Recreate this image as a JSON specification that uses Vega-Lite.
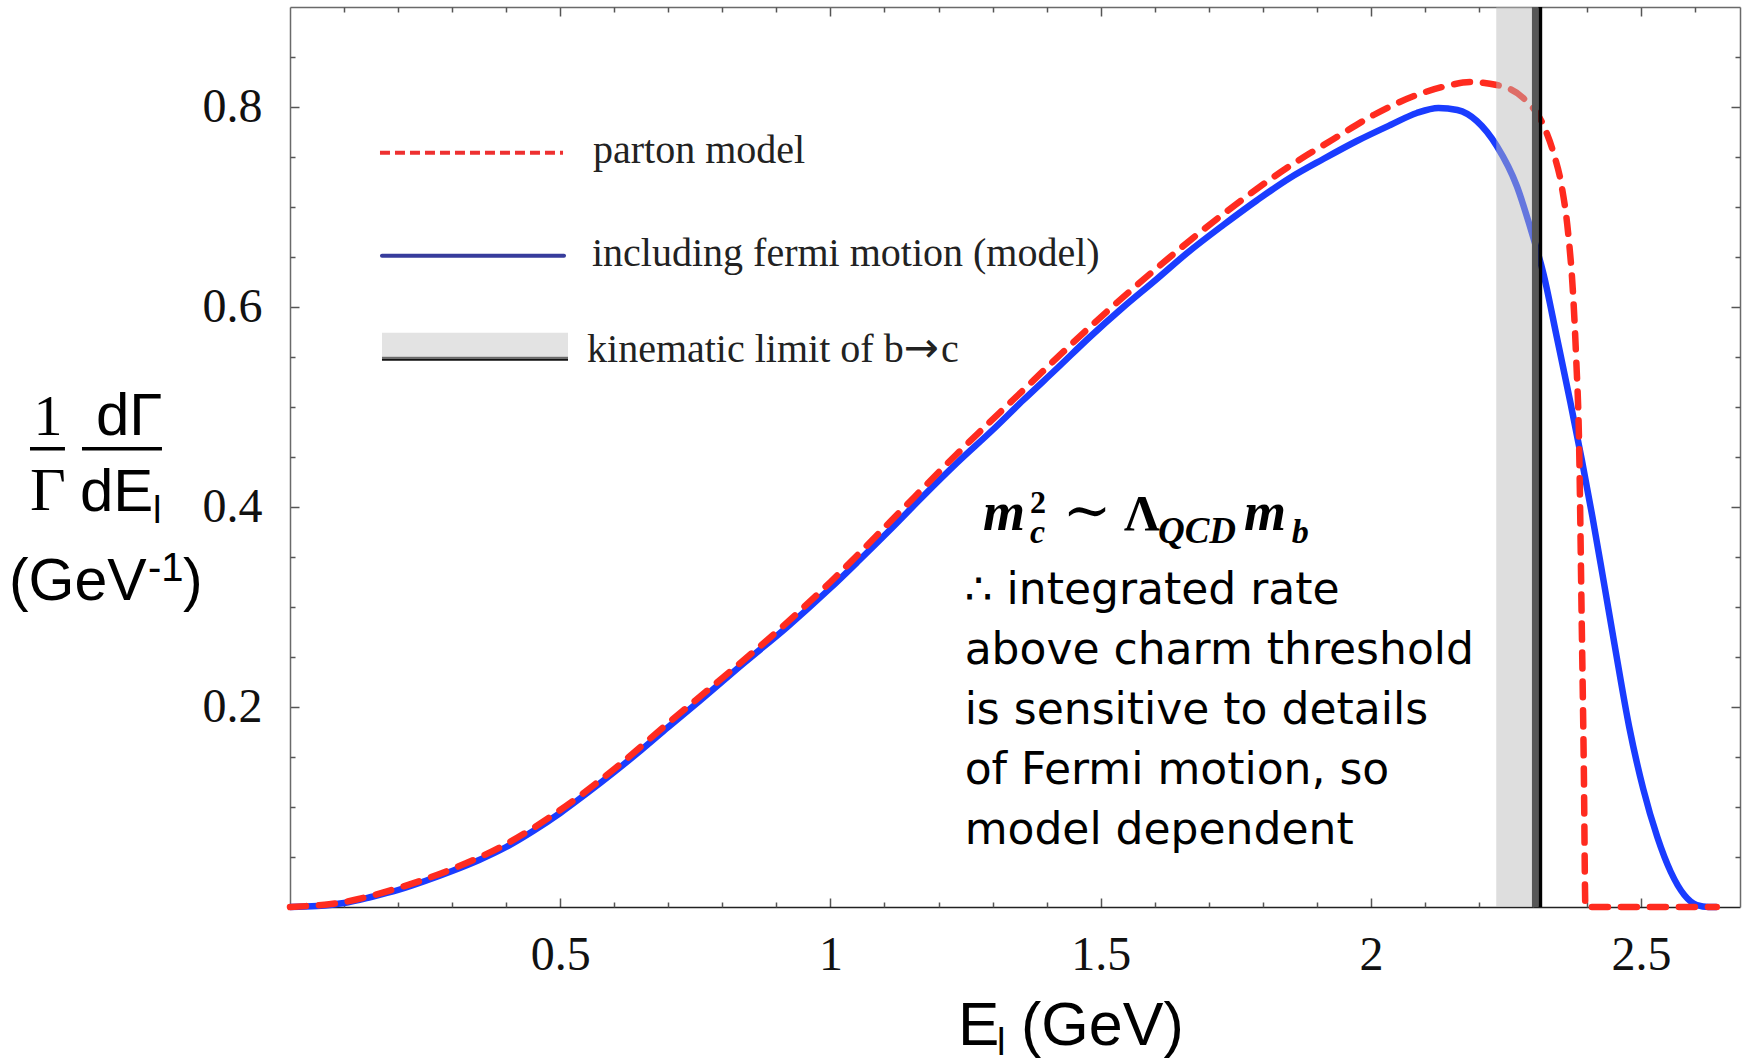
{
  "$schema": "https://vega.github.io/schema/vega-lite/v6.json",
  "width": 1450,
  "height": 900,
  "autosize": {"type": "none"},
  "padding": {"left": 290, "top": 7, "right": 2, "bottom": 151},
  "background": "white",
  "config": {
    "view": {"stroke": null},
    "axis": {"grid": false, "tickColor": "#555", "tickWidth": 1.5, "domainColor": "#6a6a6a", "domainWidth": 1.5, "labelFont": "Liberation Serif", "labelFontSize": 48, "labelColor": "#111", "labelFlush": false, "labelOverlap": false}
  },
  "datasets": {
    "curves": [
      {"E": 0, "r": 0, "s": "f"}, {"E": 0.05, "r": 0.001, "s": "f"}, {"E": 0.1, "r": 0.004, "s": "f"}, {"E": 0.15, "r": 0.010, "s": "f"},
      {"E": 0.2, "r": 0.017, "s": "f"}, {"E": 0.25, "r": 0.026, "s": "f"}, {"E": 0.3, "r": 0.036, "s": "f"}, {"E": 0.35, "r": 0.047, "s": "f"},
      {"E": 0.4, "r": 0.060, "s": "f"}, {"E": 0.45, "r": 0.076, "s": "f"}, {"E": 0.5, "r": 0.094, "s": "f"}, {"E": 0.55, "r": 0.114, "s": "f"},
      {"E": 0.6, "r": 0.135, "s": "f"}, {"E": 0.65, "r": 0.157, "s": "f"}, {"E": 0.7, "r": 0.180, "s": "f"}, {"E": 0.76, "r": 0.207, "s": "f"},
      {"E": 0.84, "r": 0.244, "s": "f"}, {"E": 0.92, "r": 0.280, "s": "f"}, {"E": 1.0, "r": 0.319, "s": "f"}, {"E": 1.05, "r": 0.345, "s": "f"},
      {"E": 1.11, "r": 0.377, "s": "f"}, {"E": 1.17, "r": 0.410, "s": "f"}, {"E": 1.234, "r": 0.444, "s": "f"}, {"E": 1.3, "r": 0.477, "s": "f"},
      {"E": 1.357, "r": 0.507, "s": "f"}, {"E": 1.42, "r": 0.539, "s": "f"}, {"E": 1.48, "r": 0.570, "s": "f"}, {"E": 1.54, "r": 0.599, "s": "f"},
      {"E": 1.604, "r": 0.628, "s": "f"}, {"E": 1.66, "r": 0.654, "s": "f"}, {"E": 1.727, "r": 0.682, "s": "f"}, {"E": 1.79, "r": 0.707, "s": "f"},
      {"E": 1.85, "r": 0.729, "s": "f"}, {"E": 1.912, "r": 0.748, "s": "f"}, {"E": 1.974, "r": 0.766, "s": "f"}, {"E": 2.036, "r": 0.782, "s": "f"},
      {"E": 2.085, "r": 0.794, "s": "f"}, {"E": 2.125, "r": 0.799, "s": "f"}, {"E": 2.16, "r": 0.797, "s": "f"}, {"E": 2.196, "r": 0.786, "s": "f"},
      {"E": 2.233, "r": 0.761, "s": "f"}, {"E": 2.27, "r": 0.721, "s": "f"}, {"E": 2.298, "r": 0.674, "s": "f"}, {"E": 2.319, "r": 0.634, "s": "f"},
      {"E": 2.344, "r": 0.570, "s": "f"}, {"E": 2.369, "r": 0.505, "s": "f"}, {"E": 2.39, "r": 0.448, "s": "f"}, {"E": 2.41, "r": 0.390, "s": "f"},
      {"E": 2.43, "r": 0.328, "s": "f"}, {"E": 2.451, "r": 0.262, "s": "f"}, {"E": 2.478, "r": 0.180, "s": "f"}, {"E": 2.504, "r": 0.118, "s": "f"},
      {"E": 2.53, "r": 0.070, "s": "f"}, {"E": 2.555, "r": 0.035, "s": "f"}, {"E": 2.58, "r": 0.012, "s": "f"}, {"E": 2.603, "r": 0.002, "s": "f"},
      {"E": 2.625, "r": 0, "s": "f"}, {"E": 2.64, "r": 0, "s": "f"},
      {"E": 0, "r": 0, "s": "p"}, {"E": 0.1, "r": 0.005, "s": "p"}, {"E": 0.2, "r": 0.019, "s": "p"}, {"E": 0.3, "r": 0.038, "s": "p"},
      {"E": 0.4, "r": 0.063, "s": "p"}, {"E": 0.5, "r": 0.097, "s": "p"}, {"E": 0.6, "r": 0.138, "s": "p"}, {"E": 0.7, "r": 0.184, "s": "p"},
      {"E": 0.8, "r": 0.229, "s": "p"}, {"E": 0.9, "r": 0.275, "s": "p"}, {"E": 1.0, "r": 0.325, "s": "p"}, {"E": 1.11, "r": 0.385, "s": "p"},
      {"E": 1.234, "r": 0.453, "s": "p"}, {"E": 1.357, "r": 0.517, "s": "p"}, {"E": 1.48, "r": 0.580, "s": "p"}, {"E": 1.604, "r": 0.639, "s": "p"},
      {"E": 1.727, "r": 0.693, "s": "p"}, {"E": 1.85, "r": 0.741, "s": "p"}, {"E": 1.931, "r": 0.768, "s": "p"}, {"E": 2.005, "r": 0.792, "s": "p"},
      {"E": 2.085, "r": 0.812, "s": "p"}, {"E": 2.14, "r": 0.821, "s": "p"}, {"E": 2.184, "r": 0.825, "s": "p"}, {"E": 2.233, "r": 0.822, "s": "p"},
      {"E": 2.282, "r": 0.809, "s": "p"}, {"E": 2.319, "r": 0.782, "s": "p"}, {"E": 2.338, "r": 0.754, "s": "p"}, {"E": 2.353, "r": 0.721, "s": "p"},
      {"E": 2.365, "r": 0.674, "s": "p"}, {"E": 2.374, "r": 0.614, "s": "p"}, {"E": 2.38, "r": 0.547, "s": "p"}, {"E": 2.385, "r": 0.47, "s": "p"},
      {"E": 2.39, "r": 0.29, "s": "p"}, {"E": 2.394, "r": 0.14, "s": "p"}, {"E": 2.397, "r": 0, "s": "p"}, {"E": 2.64, "r": 0, "s": "p"}
    ]
  },
  "layer": [
    {
      "data": {"name": "curves"},
      "transform": [{"filter": "datum.s == 'f'"}],
      "mark": {"type": "line", "color": "#1a3cff", "strokeWidth": 6.5, "interpolate": "monotone"},
      "encoding": {
        "x": {"field": "E", "type": "quantitative", "scale": {"domain": [0, 2.683], "nice": false, "zero": false},
          "axis": {"orient": "bottom", "title": null, "values": [0.5, 1, 1.5, 2, 2.5], "format": "~g", "tickSize": -9, "labelPadding": 33, "labelBaseline": "top", "domainColor": "#222"}},
        "y": {"field": "r", "type": "quantitative", "scale": {"domain": [0, 0.9], "nice": false, "zero": false},
          "axis": {"orient": "left", "title": null, "values": [0.2, 0.4, 0.6, 0.8], "format": "~g", "tickSize": -9, "labelPadding": 37, "labelAlign": "right", "labelBaseline": "middle"}}
      }
    },
    {
      "data": {"name": "curves"},
      "transform": [{"filter": "datum.s == 'p'"}],
      "mark": {"type": "line", "color": "#ff2b1f", "strokeWidth": 6.5, "strokeDash": [16, 13], "strokeCap": "round", "interpolate": "monotone"},
      "encoding": {
        "x": {"field": "E", "type": "quantitative", "scale": {"domain": [0, 2.683], "nice": false, "zero": false},
          "axis": {"orient": "top", "title": null, "values": [0.5, 1, 1.5, 2, 2.5], "labels": false, "tickSize": -9}},
        "y": {"field": "r", "type": "quantitative", "scale": {"domain": [0, 0.9], "nice": false, "zero": false},
          "axis": {"orient": "right", "title": null, "values": [0.2, 0.4, 0.6, 0.8], "labels": false, "tickSize": -9}}
      }
    },
    {
      "data": {"values": [{}]},
      "mark": {"type": "rect", "color": "#b9b9b9", "opacity": 0.47},
      "encoding": {
        "x": {"datum": 2.232, "type": "quantitative", "scale": {"domain": [0, 2.683], "nice": false, "zero": false}, "axis": null},
        "x2": {"datum": 2.298}
      }
    },
    {
      "data": {"values": [{}]},
      "mark": {"type": "rect", "color": "#575757"},
      "encoding": {
        "x": {"datum": 2.298, "type": "quantitative", "scale": {"domain": [0, 2.683], "nice": false, "zero": false}, "axis": null},
        "x2": {"datum": 2.310}
      }
    },
    {
      "data": {"values": [{}]},
      "mark": {"type": "rect", "color": "#000000"},
      "encoding": {
        "x": {"datum": 2.310, "type": "quantitative", "scale": {"domain": [0, 2.683], "nice": false, "zero": false}, "axis": null},
        "x2": {"datum": 2.317}
      }
    },
    {
      "data": {"values": [{}]},
      "mark": {"type": "text", "text": "parton model", "font": "Liberation Serif", "fontSize": 40, "color": "#222", "align": "left", "baseline": "alphabetic"},
      "encoding": {
        "x": {"datum": 0.5607, "type": "quantitative", "scale": {"domain": [0, 2.683], "nice": false, "zero": false},
          "axis": {"orient": "bottom", "title": null, "values": [0.1, 0.2, 0.3, 0.4, 0.6, 0.7, 0.8, 0.9, 1.1, 1.2, 1.3, 1.4, 1.6, 1.7, 1.8, 1.9, 2.1, 2.2, 2.3, 2.4, 2.6], "labels": false, "domain": false, "tickSize": -5}},
        "y": {"datum": 0.7443, "type": "quantitative", "scale": {"domain": [0, 0.9], "nice": false, "zero": false},
          "axis": {"orient": "left", "title": null, "values": [0.05, 0.1, 0.15, 0.25, 0.3, 0.35, 0.45, 0.5, 0.55, 0.65, 0.7, 0.75, 0.85], "labels": false, "domain": false, "tickSize": -5}}
      }
    },
    {
      "data": {"values": [{}]},
      "mark": {"type": "text", "text": "including fermi motion (model)", "font": "Liberation Serif", "fontSize": 40, "color": "#222", "align": "left", "baseline": "alphabetic"},
      "encoding": {
        "x": {"datum": 0.5588, "type": "quantitative", "scale": {"domain": [0, 2.683], "nice": false, "zero": false},
          "axis": {"orient": "top", "title": null, "values": [0.1, 0.2, 0.3, 0.4, 0.6, 0.7, 0.8, 0.9, 1.1, 1.2, 1.3, 1.4, 1.6, 1.7, 1.8, 1.9, 2.1, 2.2, 2.3, 2.4, 2.6], "labels": false, "domain": false, "tickSize": -5}},
        "y": {"datum": 0.6413, "type": "quantitative", "scale": {"domain": [0, 0.9], "nice": false, "zero": false},
          "axis": {"orient": "right", "title": null, "values": [0.05, 0.1, 0.15, 0.25, 0.3, 0.35, 0.45, 0.5, 0.55, 0.65, 0.7, 0.75, 0.85], "labels": false, "domain": false, "tickSize": -5}}
      }
    },
    {
      "data": {"values": [{}]},
      "mark": {"type": "text", "text": "kinematic limit of b", "font": "Liberation Serif", "fontSize": 40, "color": "#222", "align": "left", "baseline": "alphabetic"},
      "encoding": {
        "x": {"datum": 0.5496, "type": "quantitative", "scale": {"domain": [0, 2.683], "nice": false, "zero": false}, "axis": null},
        "y": {"datum": 0.5452, "type": "quantitative", "scale": {"domain": [0, 0.9], "nice": false, "zero": false}, "axis": null}
      }
    },
    {
      "data": {"values": [{}]},
      "mark": {"type": "text", "text": "→", "font": "DejaVu Sans", "fontSize": 42, "color": "#222", "align": "left", "baseline": "alphabetic"},
      "encoding": {
        "x": {"datum": 1.1358, "type": "quantitative", "scale": {"domain": [0, 2.683], "nice": false, "zero": false}, "axis": null},
        "y": {"datum": 0.5452, "type": "quantitative", "scale": {"domain": [0, 0.9], "nice": false, "zero": false}, "axis": null}
      }
    },
    {
      "data": {"values": [{}]},
      "mark": {"type": "text", "text": "c", "font": "Liberation Serif", "fontSize": 40, "color": "#222", "align": "left", "baseline": "alphabetic"},
      "encoding": {
        "x": {"datum": 1.2047, "type": "quantitative", "scale": {"domain": [0, 2.683], "nice": false, "zero": false}, "axis": null},
        "y": {"datum": 0.5452, "type": "quantitative", "scale": {"domain": [0, 0.9], "nice": false, "zero": false}, "axis": null}
      }
    },
    {
      "data": {"values": [{}]},
      "mark": {"type": "rule", "color": "#ee3030", "strokeWidth": 4, "strokeDash": [10, 5]},
      "encoding": {
        "x": {"datum": 0.1665, "type": "quantitative", "scale": {"domain": [0, 2.683], "nice": false, "zero": false}, "axis": null},
        "x2": {"datum": 0.5052},
        "y": {"datum": 0.7543, "type": "quantitative", "scale": {"domain": [0, 0.9], "nice": false, "zero": false}, "axis": null}
      }
    },
    {
      "data": {"values": [{}]},
      "mark": {"type": "rule", "color": "#373c9c", "strokeWidth": 4, "strokeCap": "round"},
      "encoding": {
        "x": {"datum": 0.1702, "type": "quantitative", "scale": {"domain": [0, 2.683], "nice": false, "zero": false}, "axis": null},
        "x2": {"datum": 0.5070},
        "y": {"datum": 0.6513, "type": "quantitative", "scale": {"domain": [0, 0.9], "nice": false, "zero": false}, "axis": null}
      }
    },
    {
      "data": {"values": [{}]},
      "mark": {"type": "rect", "color": "#e3e3e3"},
      "encoding": {
        "x": {"datum": 0.1702, "type": "quantitative", "scale": {"domain": [0, 2.683], "nice": false, "zero": false}, "axis": null},
        "x2": {"datum": 0.5144},
        "y": {"datum": 0.5742, "type": "quantitative", "scale": {"domain": [0, 0.9], "nice": false, "zero": false}, "axis": null},
        "y2": {"datum": 0.5502}
      }
    },
    {
      "data": {"values": [{}]},
      "mark": {"type": "rule", "color": "#6a6a6a", "strokeWidth": 2},
      "encoding": {
        "x": {"datum": 0.1702, "type": "quantitative", "scale": {"domain": [0, 2.683], "nice": false, "zero": false}, "axis": null},
        "x2": {"datum": 0.5144},
        "y": {"datum": 0.5492, "type": "quantitative", "scale": {"domain": [0, 0.9], "nice": false, "zero": false}, "axis": null}
      }
    },
    {
      "data": {"values": [{}]},
      "mark": {"type": "rule", "color": "#111111", "strokeWidth": 2},
      "encoding": {
        "x": {"datum": 0.1702, "type": "quantitative", "scale": {"domain": [0, 2.683], "nice": false, "zero": false}, "axis": null},
        "x2": {"datum": 0.5144},
        "y": {"datum": 0.5472, "type": "quantitative", "scale": {"domain": [0, 0.9], "nice": false, "zero": false}, "axis": null}
      }
    },
    {
      "data": {"values": [{}]},
      "mark": {"type": "text", "font": "Liberation Serif", "fontSize": 58, "color": "#000", "align": "center", "baseline": "alphabetic", "text": "1"},
      "encoding": {
        "x": {"datum": -0.4478, "type": "quantitative", "scale": {"domain": [0, 2.683], "nice": false, "zero": false}, "axis": null},
        "y": {"datum": 0.4722, "type": "quantitative", "scale": {"domain": [0, 0.9], "nice": false, "zero": false}, "axis": null}
      }
    },
    {
      "data": {"values": [{}]},
      "mark": {"type": "text", "font": "Liberation Serif", "fontSize": 62, "color": "#000", "align": "center", "baseline": "alphabetic", "text": "Γ"},
      "encoding": {
        "x": {"datum": -0.4478, "type": "quantitative", "scale": {"domain": [0, 2.683], "nice": false, "zero": false}, "axis": null},
        "y": {"datum": 0.3972, "type": "quantitative", "scale": {"domain": [0, 0.9], "nice": false, "zero": false}, "axis": null}
      }
    },
    {
      "data": {"values": [{}]},
      "mark": {"type": "rule", "color": "#000", "strokeWidth": 3.5},
      "encoding": {
        "x": {"datum": -0.4811, "type": "quantitative", "scale": {"domain": [0, 2.683], "nice": false, "zero": false}, "axis": null},
        "x2": {"datum": -0.4164},
        "y": {"datum": 0.4582, "type": "quantitative", "scale": {"domain": [0, 0.9], "nice": false, "zero": false}, "axis": null}
      }
    },
    {
      "data": {"values": [{}]},
      "mark": {"type": "text", "font": "Liberation Sans", "fontSize": 60, "color": "#000", "align": "left", "baseline": "alphabetic", "text": "dΓ"},
      "encoding": {
        "x": {"datum": -0.359, "type": "quantitative", "scale": {"domain": [0, 2.683], "nice": false, "zero": false}, "axis": null},
        "y": {"datum": 0.4722, "type": "quantitative", "scale": {"domain": [0, 0.9], "nice": false, "zero": false}, "axis": null}
      }
    },
    {
      "data": {"values": [{}]},
      "mark": {"type": "rule", "color": "#000", "strokeWidth": 3.5},
      "encoding": {
        "x": {"datum": -0.3849, "type": "quantitative", "scale": {"domain": [0, 2.683], "nice": false, "zero": false}, "axis": null},
        "x2": {"datum": -0.2369},
        "y": {"datum": 0.4582, "type": "quantitative", "scale": {"domain": [0, 0.9], "nice": false, "zero": false}, "axis": null}
      }
    },
    {
      "data": {"values": [{}]},
      "mark": {"type": "text", "font": "Liberation Sans", "fontSize": 60, "color": "#000", "align": "left", "baseline": "alphabetic", "text": "dE"},
      "encoding": {
        "x": {"datum": -0.3886, "type": "quantitative", "scale": {"domain": [0, 2.683], "nice": false, "zero": false}, "axis": null},
        "y": {"datum": 0.3962, "type": "quantitative", "scale": {"domain": [0, 0.9], "nice": false, "zero": false}, "axis": null}
      }
    },
    {
      "data": {"values": [{}]},
      "mark": {"type": "text", "font": "Liberation Sans", "fontSize": 38, "color": "#000", "align": "left", "baseline": "alphabetic", "text": "l"},
      "encoding": {
        "x": {"datum": -0.2535, "type": "quantitative", "scale": {"domain": [0, 2.683], "nice": false, "zero": false}, "axis": null},
        "y": {"datum": 0.3842, "type": "quantitative", "scale": {"domain": [0, 0.9], "nice": false, "zero": false}, "axis": null}
      }
    },
    {
      "data": {"values": [{}]},
      "mark": {"type": "text", "font": "Liberation Sans", "fontSize": 59, "color": "#000", "align": "left", "baseline": "alphabetic", "text": "(GeV"},
      "encoding": {
        "x": {"datum": -0.52, "type": "quantitative", "scale": {"domain": [0, 2.683], "nice": false, "zero": false}, "axis": null},
        "y": {"datum": 0.3071, "type": "quantitative", "scale": {"domain": [0, 0.9], "nice": false, "zero": false}, "axis": null}
      }
    },
    {
      "data": {"values": [{}]},
      "mark": {"type": "text", "font": "Liberation Sans", "fontSize": 40, "color": "#000", "align": "left", "baseline": "alphabetic", "text": "-1"},
      "encoding": {
        "x": {"datum": -0.2628, "type": "quantitative", "scale": {"domain": [0, 2.683], "nice": false, "zero": false}, "axis": null},
        "y": {"datum": 0.3261, "type": "quantitative", "scale": {"domain": [0, 0.9], "nice": false, "zero": false}, "axis": null}
      }
    },
    {
      "data": {"values": [{}]},
      "mark": {"type": "text", "font": "Liberation Sans", "fontSize": 59, "color": "#000", "align": "left", "baseline": "alphabetic", "text": ")"},
      "encoding": {
        "x": {"datum": -0.1980, "type": "quantitative", "scale": {"domain": [0, 2.683], "nice": false, "zero": false}, "axis": null},
        "y": {"datum": 0.3071, "type": "quantitative", "scale": {"domain": [0, 0.9], "nice": false, "zero": false}, "axis": null}
      }
    },
    {
      "data": {"values": [{}]},
      "mark": {"type": "text", "font": "Liberation Sans", "fontSize": 62, "color": "#000", "align": "left", "baseline": "alphabetic", "text": "E"},
      "encoding": {
        "x": {"datum": 1.2361, "type": "quantitative", "scale": {"domain": [0, 2.683], "nice": false, "zero": false}, "axis": null},
        "y": {"datum": -0.1381, "type": "quantitative", "scale": {"domain": [0, 0.9], "nice": false, "zero": false}, "axis": null}
      }
    },
    {
      "data": {"values": [{}]},
      "mark": {"type": "text", "font": "Liberation Sans", "fontSize": 38, "color": "#000", "align": "left", "baseline": "alphabetic", "text": "l"},
      "encoding": {
        "x": {"datum": 1.3083, "type": "quantitative", "scale": {"domain": [0, 2.683], "nice": false, "zero": false}, "axis": null},
        "y": {"datum": -0.148, "type": "quantitative", "scale": {"domain": [0, 0.9], "nice": false, "zero": false}, "axis": null}
      }
    },
    {
      "data": {"values": [{}]},
      "mark": {"type": "text", "font": "Liberation Sans", "fontSize": 61, "color": "#000", "align": "left", "baseline": "alphabetic", "text": "(GeV)"},
      "encoding": {
        "x": {"datum": 1.3527, "type": "quantitative", "scale": {"domain": [0, 2.683], "nice": false, "zero": false}, "axis": null},
        "y": {"datum": -0.1381, "type": "quantitative", "scale": {"domain": [0, 0.9], "nice": false, "zero": false}, "axis": null}
      }
    },
    {
      "data": {"values": [{}]},
      "mark": {"type": "text", "font": "Liberation Serif", "fontSize": 54, "fontWeight": "bold", "fontStyle": "italic", "color": "#000", "align": "left", "baseline": "alphabetic", "text": "m"},
      "encoding": {
        "x": {"datum": 1.2824, "type": "quantitative", "scale": {"domain": [0, 2.683], "nice": false, "zero": false}, "axis": null},
        "y": {"datum": 0.3772, "type": "quantitative", "scale": {"domain": [0, 0.9], "nice": false, "zero": false}, "axis": null}
      }
    },
    {
      "data": {"values": [{}]},
      "mark": {"type": "text", "font": "Liberation Serif", "fontSize": 32, "fontWeight": "bold", "color": "#000", "align": "left", "baseline": "alphabetic", "text": "2"},
      "encoding": {
        "x": {"datum": 1.3694, "type": "quantitative", "scale": {"domain": [0, 2.683], "nice": false, "zero": false}, "axis": null},
        "y": {"datum": 0.394, "type": "quantitative", "scale": {"domain": [0, 0.9], "nice": false, "zero": false}, "axis": null}
      }
    },
    {
      "data": {"values": [{}]},
      "mark": {"type": "text", "font": "Liberation Serif", "fontSize": 34, "fontWeight": "bold", "fontStyle": "italic", "color": "#000", "align": "left", "baseline": "alphabetic", "text": "c"},
      "encoding": {
        "x": {"datum": 1.3694, "type": "quantitative", "scale": {"domain": [0, 2.683], "nice": false, "zero": false}, "axis": null},
        "y": {"datum": 0.3642, "type": "quantitative", "scale": {"domain": [0, 0.9], "nice": false, "zero": false}, "axis": null}
      }
    },
    {
      "data": {"values": [{}]},
      "mark": {"type": "text", "font": "DejaVu Serif", "fontSize": 58, "color": "#000", "align": "left", "baseline": "alphabetic", "text": "∼"},
      "encoding": {
        "x": {"datum": 1.4300, "type": "quantitative", "scale": {"domain": [0, 2.683], "nice": false, "zero": false}, "axis": null},
        "y": {"datum": 0.3772, "type": "quantitative", "scale": {"domain": [0, 0.9], "nice": false, "zero": false}, "axis": null}
      }
    },
    {
      "data": {"values": [{}]},
      "mark": {"type": "text", "font": "Liberation Serif", "fontSize": 50, "fontWeight": "bold", "color": "#000", "align": "left", "baseline": "alphabetic", "text": "Λ"},
      "encoding": {
        "x": {"datum": 1.5434, "type": "quantitative", "scale": {"domain": [0, 2.683], "nice": false, "zero": false}, "axis": null},
        "y": {"datum": 0.3772, "type": "quantitative", "scale": {"domain": [0, 0.9], "nice": false, "zero": false}, "axis": null}
      }
    },
    {
      "data": {"values": [{}]},
      "mark": {"type": "text", "font": "Liberation Serif", "fontSize": 37, "fontWeight": "bold", "fontStyle": "italic", "color": "#000", "align": "left", "baseline": "alphabetic", "text": "QCD"},
      "encoding": {
        "x": {"datum": 1.6060, "type": "quantitative", "scale": {"domain": [0, 2.683], "nice": false, "zero": false}, "axis": null},
        "y": {"datum": 0.3642, "type": "quantitative", "scale": {"domain": [0, 0.9], "nice": false, "zero": false}, "axis": null}
      }
    },
    {
      "data": {"values": [{}]},
      "mark": {"type": "text", "font": "Liberation Serif", "fontSize": 54, "fontWeight": "bold", "fontStyle": "italic", "color": "#000", "align": "left", "baseline": "alphabetic", "text": "m"},
      "encoding": {
        "x": {"datum": 1.7652, "type": "quantitative", "scale": {"domain": [0, 2.683], "nice": false, "zero": false}, "axis": null},
        "y": {"datum": 0.3772, "type": "quantitative", "scale": {"domain": [0, 0.9], "nice": false, "zero": false}, "axis": null}
      }
    },
    {
      "data": {"values": [{}]},
      "mark": {"type": "text", "font": "Liberation Serif", "fontSize": 34, "fontWeight": "bold", "fontStyle": "italic", "color": "#000", "align": "left", "baseline": "alphabetic", "text": "b"},
      "encoding": {
        "x": {"datum": 1.8534, "type": "quantitative", "scale": {"domain": [0, 2.683], "nice": false, "zero": false}, "axis": null},
        "y": {"datum": 0.3642, "type": "quantitative", "scale": {"domain": [0, 0.9], "nice": false, "zero": false}, "axis": null}
      }
    },
    {
      "data": {"values": [{}]},
      "mark": {"type": "text", "font": "DejaVu Sans", "fontSize": 44, "color": "#000", "align": "left", "baseline": "alphabetic", "lineHeight": 60,
        "text": ["∴ integrated rate", "above charm threshold", "is sensitive to details", "of Fermi motion,  so", "model dependent"]},
      "encoding": {
        "x": {"datum": 1.2483, "type": "quantitative", "scale": {"domain": [0, 2.683], "nice": false, "zero": false}, "axis": null},
        "y": {"datum": 0.3032, "type": "quantitative", "scale": {"domain": [0, 0.9], "nice": false, "zero": false}, "axis": null}
      }
    }
  ],
  "resolve": {"axis": {"x": "independent", "y": "independent"}}
}
